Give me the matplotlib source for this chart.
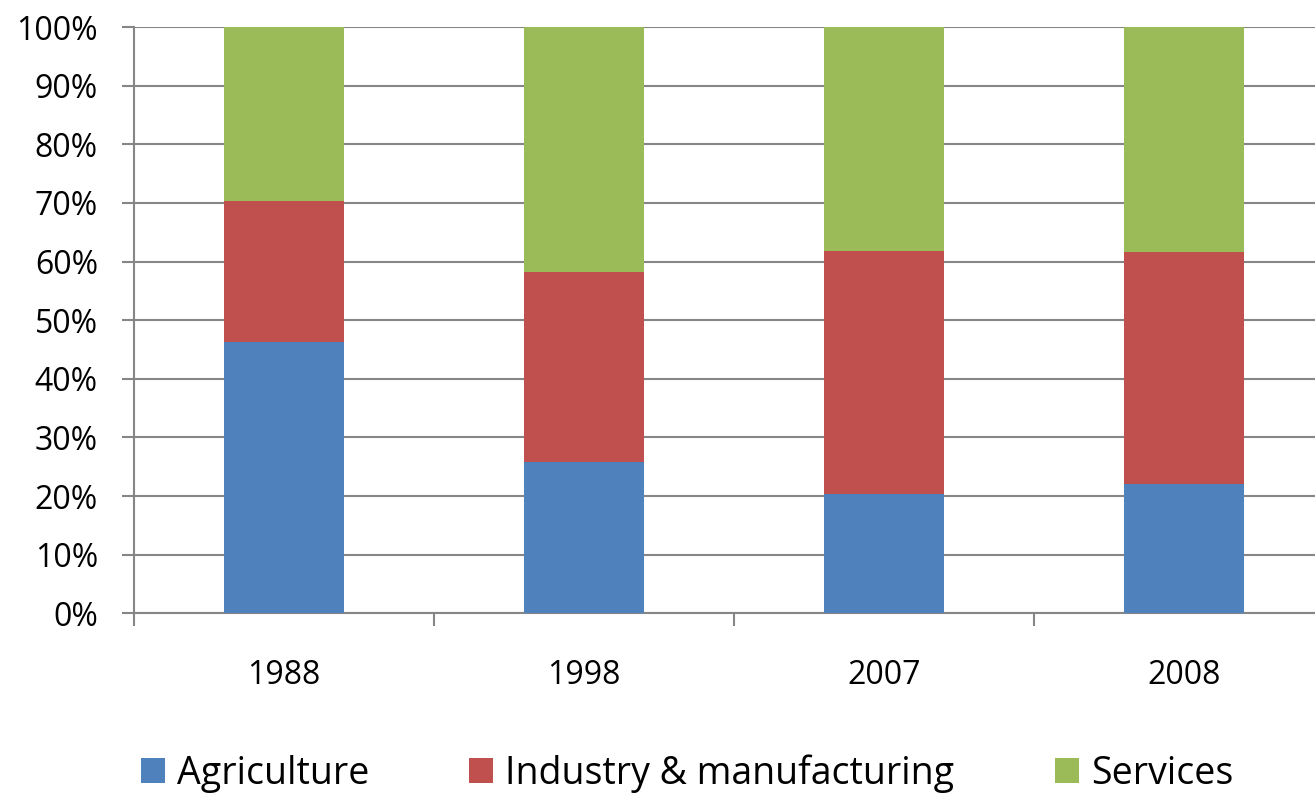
import matplotlib
matplotlib.use("Agg")
import matplotlib.pyplot as plt
from matplotlib.ticker import FuncFormatter
import numpy as np

years = ["1988", "1998", "2007", "2008"]
agriculture = [46.3, 25.8, 20.3, 22.0]
industry = [24.0, 32.5, 41.5, 39.7]
services = [29.7, 41.7, 38.2, 38.3]
series_names = ["Agriculture", "Industry & manufacturing", "Services"]
colors = ["#4F81BD", "#C0504D", "#9BBB59"]

plt.rcParams['font.family'] = ['Open Sans', 'DejaVu Sans']

fig = plt.figure(figsize=(13.15, 7.95), dpi=100)
ax = fig.add_axes([134/1315, (795-613.4)/795, 1 - 134/1315, (613.4-27)/795])

x = np.arange(len(years))
bottom = np.zeros(len(years))
handles = []
for vals, name, c in zip([agriculture, industry, services], series_names, colors):
    h = ax.bar(x, vals, width=0.4, bottom=bottom, color=c, label=name, zorder=3)
    handles.append(h)
    bottom += np.array(vals)

ax.set_yticks(np.arange(0, 101, 10))
ax.yaxis.set_major_formatter(FuncFormatter(lambda v, p: f"{int(v)}%"))
ax.set_xticks(x)
ax.set_xticklabels(years)
ax.set_xticks(np.arange(-0.5, 3.5, 1), minor=True)
ax.set_ylim(0, 100)
ax.set_xlim(-0.5, (1315-134)/300 - 0.5)
ax.tick_params(axis='x', which='major', length=0, labelsize=23, pad=33)
ax.tick_params(axis='x', which='minor', length=9, width=1.5, color='#868686', direction='out')
ax.tick_params(axis='y', length=9, width=1.5, color='#868686', labelsize=23, pad=17)
ax.grid(axis='y', color='#868686', linewidth=1.5, zorder=0)
for s in ['top', 'right']:
    ax.spines[s].set_visible(False)
for s in ['left', 'bottom']:
    ax.spines[s].set_color('#868686')
    ax.spines[s].set_linewidth(1.5)

fig.legend(handles=handles, labels=series_names, loc='center',
           bbox_to_anchor=(0.5224, 21.3/795), ncol=3, frameon=False, fontsize=27,
           handlelength=0.64, handleheight=0.64, columnspacing=2.67, handletextpad=0.32,
           borderpad=0, borderaxespad=0)

fig.savefig("out.png", dpi=100)
